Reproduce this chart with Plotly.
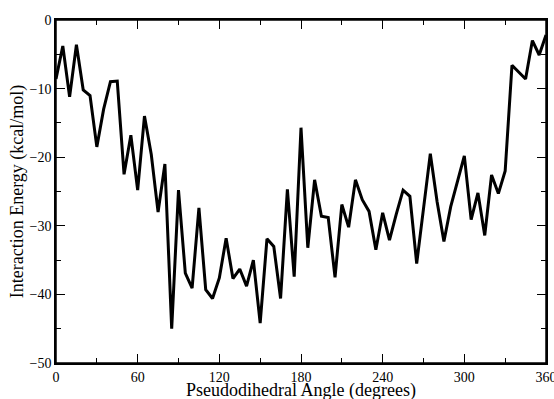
import plotly.graph_objects as go

angles = list(range(0, 361, 5))
energy = [
    -8.6, -3.8, -11.2, -3.6, -10.2, -11.0, -18.5, -13.0, -9.0, -8.9,
    -22.5, -16.8, -24.8, -14.0, -19.6, -28.0, -21.0, -45.0, -24.8, -36.9,
    -39.1, -27.4, -39.3, -40.6, -37.6, -31.8, -37.7, -36.3, -38.8, -35.0,
    -44.2, -31.9, -33.0, -40.6, -24.7, -37.4, -15.7, -33.2, -23.3, -28.6,
    -28.8, -37.5, -26.9, -30.2, -23.3, -26.2, -27.9, -33.5, -28.1, -32.1,
    -28.3, -24.8, -25.7, -35.5, -27.5, -19.5, -26.5, -32.3, -27.2, -23.3,
    -19.8, -29.1, -25.2, -31.4, -22.6, -25.3, -22.0, -6.6, -7.6, -8.6,
    -3.0, -5.1, -2.2,
]
x_ticks = [0, 60, 120, 180, 240, 300, 360]
y_ticks = [0, -10, -20, -30, -40, -50]
x_title = "Pseudodihedral Angle (degrees)"
y_title = "Interaction Energy (kcal/mol)"

fig = go.Figure()
fig.add_trace(go.Scatter(x=angles, y=energy, mode="lines",
                         line=dict(color="black", width=3), showlegend=False))

font = dict(family="Liberation Serif, Times New Roman, serif", color="black")

def axis_style(rng, vals, minor_step, am):
    return dict(
        range=rng, tickvals=vals, ticks="inside", ticklen=9, tickwidth=1.2,
        tickcolor="black", showline=True, linecolor="black", linewidth=1.5,
        mirror="ticks", showgrid=False, zeroline=False, automargin=am,
        ticklabeloverflow="allow",
        minor=dict(dtick=minor_step, tick0=0, ticks="inside", ticklen=5,
                   tickcolor="black", tickwidth=1.2),
        tickfont=dict(size=14, **font),
    )

fig.update_layout(
    width=554, height=399,
    margin=dict(l=56, r=8, t=20, b=36),
    paper_bgcolor="white", plot_bgcolor="white",
    font=dict(size=14, **font),
    xaxis=axis_style([0, 360], x_ticks, 30, "bottom"),
    yaxis=axis_style([-50, 0], y_ticks, 5, "left"),
    shapes=[dict(type="rect", xref="paper", yref="paper", x0=0, x1=1, y0=0, y1=1,
                 line=dict(color="black", width=1.5), layer="above")],
    annotations=[
        dict(text=x_title, xref="paper", yref="paper", x=0.5, y=-0.08,
             xanchor="center", yanchor="middle", showarrow=False,
             font=dict(size=18, **font)),
        dict(text=y_title, xref="paper", yref="paper", x=-0.078, y=0.5,
             xanchor="center", yanchor="middle", textangle=-90, showarrow=False,
             font=dict(size=18, **font)),
    ],
)
fig.write_html(
    "out.html",
    config={"displayModeBar": False},
    post_script="document.body.style.margin='0';document.body.style.overflow='hidden';",
)
